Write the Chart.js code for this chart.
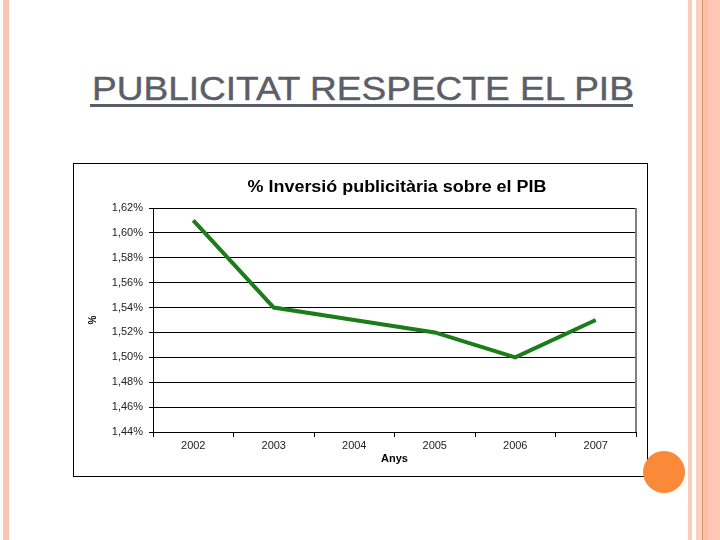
<!DOCTYPE html>
<html>
<head>
<meta charset="utf-8">
<script src="https://cdn.jsdelivr.net/npm/chart.js@4.4.1/dist/chart.umd.min.js"></script>
<style>
  body { margin: 0; width: 720px; height: 540px; position: relative; overflow: hidden; background: #fff;
         font-family: "Liberation Sans", Arial, sans-serif; }
  .band { position: absolute; top: 0; height: 540px; }
  #slideTitle { position: absolute; left: 92px; top: 72px; font-size: 33px; line-height: 1; color: #5a5e68;
                white-space: nowrap; transform-origin: 0 0; transform: scaleX(1.122);
                -webkit-text-stroke: 0.4px #5a5e68; }
  #titleLine { position: absolute; left: 90px; top: 104px; width: 543px; height: 3px; background: #5a5e68; }
  #box { position: absolute; left: 73px; top: 163px; width: 573px; height: 312px; border: 1px solid #000; background: #fff; }
  #chartTitle { position: absolute; left: 197px; top: 179px; width: 400px; text-align: center; font-size: 16px;
                line-height: 1; font-weight: bold; color: #000; white-space: nowrap;
                transform: scaleX(1.12); }
  #dot { position: absolute; left: 643px; top: 451px; width: 42px; height: 42px; border-radius: 50%; background: #fa8a3a; }
</style>
</head>
<body>
<div class="band" style="left:3px;width:6px;background:#f7c5b2"></div>
<div class="band" style="left:688px;width:4px;background:#f9cdb9"></div>
<div class="band" style="left:696px;width:6px;background:#fbd0bd"></div>
<div class="band" style="left:702px;width:1px;background:#d89474"></div>
<div class="band" style="left:703px;width:5px;background:#fdbfa3"></div>
<div class="band" style="left:708px;width:12px;background:#fec7b6"></div>

<div id="slideTitle">PUBLICITAT RESPECTE EL PIB</div>
<div id="titleLine"></div>

<div id="box"><canvas id="chart" width="573" height="312"></canvas></div>
<div id="chartTitle">% Inversió publicitària sobre el PIB</div>
<div id="dot"></div>

<script>
// dades
const anys = ['2002', '2003', '2004', '2005', '2006', '2007'];
const inversio = [1.61, 1.54, 1.53, 1.52, 1.50, 1.53];
const yMin = 1.44;
const yMax = 1.62;
const yStep = 0.02;

// vora dreta grisa de l'area del grafic
const plotFrame = {
  id: 'plotFrame',
  beforeDatasetsDraw(chart) {
    const {ctx, chartArea: a} = chart;
    ctx.save();
    ctx.strokeStyle = '#808080';
    ctx.lineWidth = 2;
    ctx.beginPath();
    ctx.moveTo(a.right, a.top);
    ctx.lineTo(a.right, a.bottom);
    ctx.stroke();
    ctx.restore();
  }
};

new Chart(document.getElementById('chart'), {
  type: 'line',
  data: {
    labels: anys,
    datasets: [{
      data: inversio,
      borderColor: '#1a7d1a',
      borderWidth: 4,
      pointRadius: 0,
      tension: 0,
      fill: false
    }]
  },
  options: {
    responsive: false,
    animation: false,
    layout: {padding: {top: 44, right: 11, bottom: 0, left: 0}},
    plugins: {legend: {display: false}, tooltip: {enabled: false}, title: {display: false}},
    scales: {
      x: {
        offset: true,
        grid: {offset: true, drawOnChartArea: false, tickLength: 5, color: '#000', tickColor: '#000'},
        border: {color: '#000'},
        ticks: {padding: 2, color: '#222', font: {family: 'Liberation Sans', size: 11}},
        title: {display: true, text: 'Anys', color: '#000', padding: {top: 0, bottom: 10},
                font: {family: 'Liberation Sans', size: 11, weight: 'bold'}},
        afterFit(scale) { scale.height = 44; }
      },
      y: {
        min: yMin,
        max: yMax,
        grid: {color: '#000', tickLength: 4, tickColor: '#000'},
        border: {color: '#000'},
        ticks: {
          stepSize: yStep,
          padding: 6,
          color: '#222',
          font: {family: 'Liberation Sans', size: 11},
          callback: (v) => v.toFixed(2).replace('.', ',') + '%'
        },
        title: {display: true, text: '%', color: '#000', padding: {top: 13, bottom: 0},
                font: {family: 'Liberation Sans', size: 10, weight: 'bold'}},
        afterFit(scale) { scale.width = 79; }
      }
    }
  },
  plugins: [plotFrame]
});
</script>
</body>
</html>
